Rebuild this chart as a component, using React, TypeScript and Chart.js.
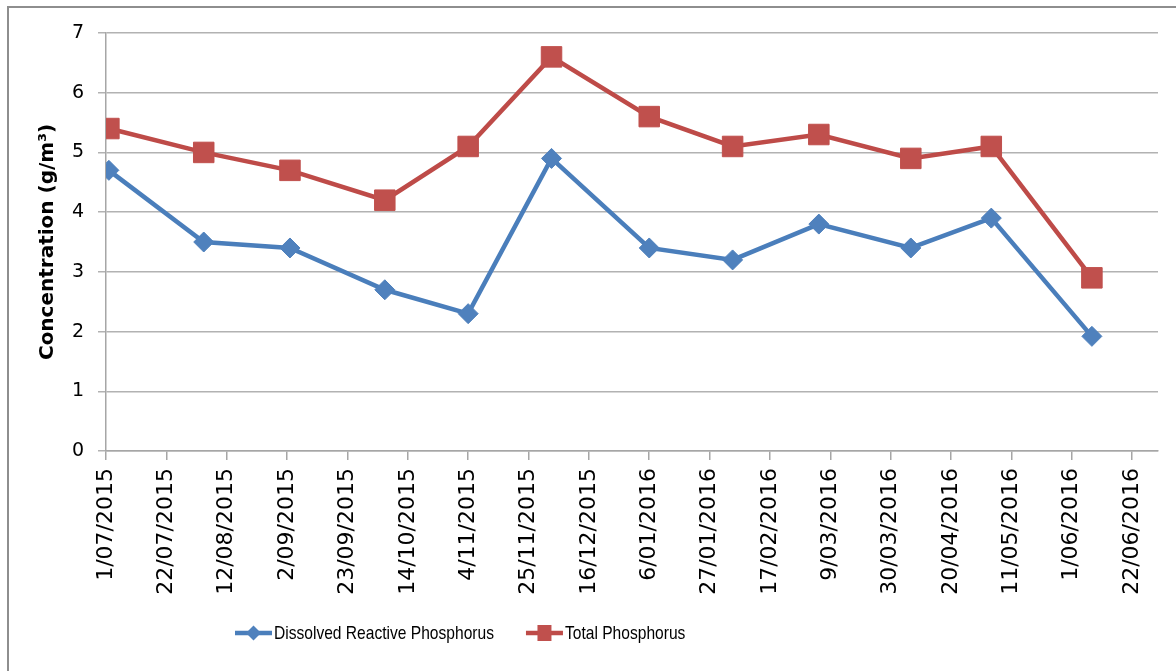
import React, { useEffect, useRef } from 'react';
import { Chart, registerables } from 'chart.js';

Chart.register(...registerables);

// ---- data ----
const ORIGIN_DATE = '1/07/2015';
const AXIS_END_DATE = '1/07/2016';
const sampleDates = ['2/07/2015', '4/08/2015', '3/09/2015', '6/10/2015', '4/11/2015', '3/12/2015', '6/01/2016', '4/02/2016', '5/03/2016', '6/04/2016', '4/05/2016', '8/06/2016'];
const drpValues = [4.7, 3.5, 3.4, 2.7, 2.3, 4.9, 3.4, 3.2, 3.8, 3.4, 3.9, 1.92];
const tpValues = [5.4, 5.0, 4.7, 4.2, 5.1, 6.6, 5.6, 5.1, 5.3, 4.9, 5.1, 2.9];
const xTickLabels = ['1/07/2015', '22/07/2015', '12/08/2015', '2/09/2015', '23/09/2015', '14/10/2015', '4/11/2015', '25/11/2015', '16/12/2015', '6/01/2016', '27/01/2016', '17/02/2016', '9/03/2016', '30/03/2016', '20/04/2016', '11/05/2016', '1/06/2016', '22/06/2016'];
const yMin = 0;
const yMax = 7;
const yStep = 1;
const seriesLabels = ['Dissolved Reactive Phosphorus', 'Total Phosphorus'];
const yTitle = 'Concentration (g/m\u00B3)';

// ---- helpers ----
function toUtc(s: string): number {
  const [d, m, y] = s.split('/').map(Number);
  return Date.UTC(y, m - 1, d);
}
const DAY = 86400000;
function dayOf(s: string): number {
  return Math.round((toUtc(s) - toUtc(ORIGIN_DATE)) / DAY);
}
const sampleDays = sampleDates.map(dayOf);
const tickDays = xTickLabels.map(dayOf);
const labelByDay: Record<number, string> = {};
tickDays.forEach((d, i) => (labelByDay[d] = xTickLabels[i]));

const BLUE_LINE = '#4A7EBB';
const BLUE_FILL = '#4F81BD';
const RED_LINE = '#BE4B48';
const RED_FILL = '#C0504D';
const GRID = '#B2B2B2';
const AXIS = '#A6A6A6';

const bgPlugin = {
  id: 'bgFrame',
  beforeDraw(chart: any) {
    const { ctx, width, height } = chart;
    ctx.save();
    ctx.fillStyle = '#ffffff';
    ctx.fillRect(0, 0, width, height);
    ctx.strokeStyle = '#8E8E8E';
    ctx.lineWidth = 2;
    ctx.beginPath();
    ctx.moveTo(8, height);
    ctx.lineTo(8, 7);
    ctx.lineTo(width, 7);
    ctx.stroke();
    ctx.restore();
  },
};

const LEGEND_CONDENSE = 0.82;

const legendPlugin = {
  id: 'lineLegend',
  afterDraw(chart: any) {
    const { ctx } = chart;
    const y = 633;
    let x = 235;
    ctx.save();
    ctx.font = '19px "Liberation Sans", Arial, sans-serif';
    ctx.textBaseline = 'middle';
    chart.data.datasets.forEach((ds: any) => {
      ctx.strokeStyle = ds.borderColor;
      ctx.lineWidth = ds.borderWidth;
      ctx.beginPath();
      ctx.moveTo(x, y);
      ctx.lineTo(x + 37, y);
      ctx.stroke();
      const cx = x + 18.5;
      ctx.fillStyle = ds.pointBackgroundColor;
      ctx.beginPath();
      if (ds.pointStyle === 'rectRot') {
        const r = 7.5;
        ctx.moveTo(cx, y - r);
        ctx.lineTo(cx + r, y);
        ctx.lineTo(cx, y + r);
        ctx.lineTo(cx - r, y);
        ctx.closePath();
      } else {
        ctx.rect(cx - 7, y - 8, 14, 16);
      }
      ctx.fill();
      ctx.fillStyle = '#000';
      const w = ctx.measureText(ds.label).width * LEGEND_CONDENSE;
      ctx.fillText(ds.label, x + 39, y + 1, w);
      x += 39 + w + 32;
    });
    ctx.restore();
  },
};

export default function App() {
  const ref = useRef<HTMLCanvasElement | null>(null);

  useEffect(() => {
    if (!ref.current) return;
    const chart = new Chart(ref.current, {
      type: 'line',
      data: {
        datasets: [
          {
            label: seriesLabels[0],
            data: sampleDays.map((d, i) => ({ x: d, y: drpValues[i] })),
            borderColor: BLUE_LINE,
            backgroundColor: BLUE_FILL,
            pointBackgroundColor: BLUE_FILL,
            pointBorderColor: BLUE_FILL,
            pointStyle: 'rectRot',
            pointRadius: 10,
            pointBorderWidth: 1,
            borderWidth: 4.5,
            tension: 0,
          },
          {
            label: seriesLabels[1],
            data: sampleDays.map((d, i) => ({ x: d, y: tpValues[i] })),
            borderColor: RED_LINE,
            backgroundColor: RED_FILL,
            pointBackgroundColor: RED_FILL,
            pointBorderColor: RED_FILL,
            pointStyle: 'rect',
            pointRadius: 14.5,
            pointBorderWidth: 1,
            borderWidth: 4.5,
            tension: 0,
          },
        ] as any,
      },
      options: {
        animation: false,
        responsive: false,
        layout: { padding: { left: 0, top: 33, right: 18, bottom: 0 } },
        scales: {
          x: {
            type: 'linear',
            min: 0,
            max: dayOf(AXIS_END_DATE),
            afterBuildTicks: (s: any) => {
              s.ticks = tickDays.map((v) => ({ value: v }));
            },
            afterFit: (s: any) => {
              s.height = 220;
            },
            ticks: {
              autoSkip: false,
              minRotation: 90,
              maxRotation: 90,
              padding: 8,
              color: '#000',
              font: { family: '"DejaVu Sans", sans-serif', size: 22 },
              callback: (v: any) => labelByDay[v] ?? '',
            },
            grid: { drawOnChartArea: false, drawTicks: true, tickLength: 9, color: AXIS, lineWidth: 1.5 },
            border: { color: AXIS, width: 1.5 },
          },
          y: {
            min: yMin,
            max: yMax,
            afterFit: (s: any) => {
              s.width = 106;
            },
            ticks: {
              stepSize: yStep,
              padding: 14,
              color: '#000',
              font: { family: '"DejaVu Sans", sans-serif', size: 19 },
            },
            grid: { color: GRID, lineWidth: 1.5, tickLength: 8 },
            border: { color: AXIS, width: 1.5 },
            title: {
              display: true,
              text: yTitle,
              color: '#000',
              font: { family: '"DejaVu Sans", sans-serif', size: 20, weight: 'bold' },
              padding: { top: 36, bottom: 0 },
            },
          },
        },
        plugins: {
          legend: { display: false },
          tooltip: { enabled: false },
        },
      } as any,
      plugins: [bgPlugin, legendPlugin],
    });
    return () => chart.destroy();
  }, []);

  return (
    <div style={{ position: 'fixed', left: 0, top: 0, width: 1176, height: 671, background: '#fff' }}>
      <canvas ref={ref} width={1176} height={671} style={{ display: 'block' }} />
    </div>
  );
}
